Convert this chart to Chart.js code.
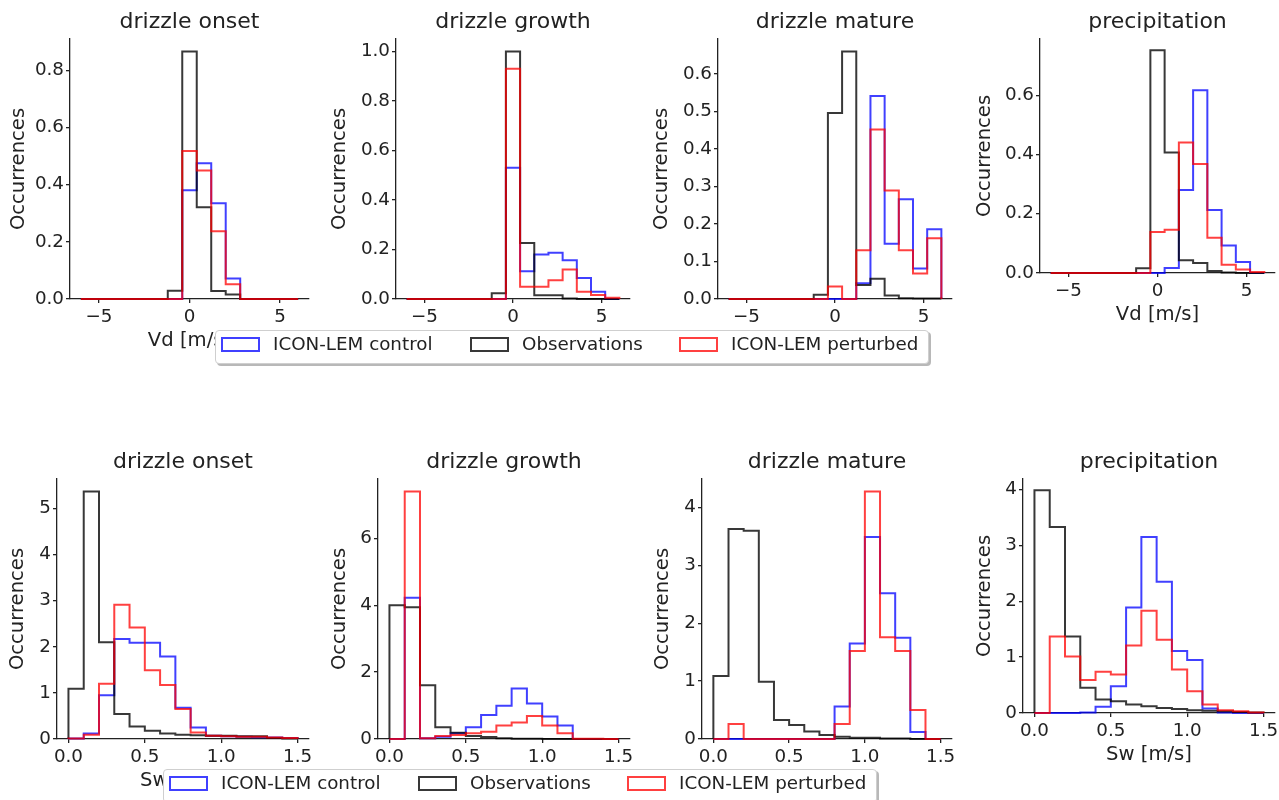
<!DOCTYPE html>
<html lang="en">
<head>
  <meta charset="utf-8" />
  <title>Vd / Sw distributions per cloud stage</title>

  <!-- Chart.js (CDN) -->
  <script src="https://cdn.jsdelivr.net/npm/chart.js@4.4.1/dist/chart.umd.min.js"></script>

  <style>
    body { margin: 0; background: #fff; }
    #page {
      position: relative; width: 1279px; height: 800px; overflow: hidden;
      font-family: 'DejaVu Sans', sans-serif; color: #222;
    }
    #page canvas { position: absolute; }
    .legend {
      position: absolute; box-sizing: border-box; width: 714px; height: 34px;
      background: #fff; border: 1px solid #cfcfcf; border-radius: 4px;
      box-shadow: 2px 2px 0 rgba(0, 0, 0, 0.28);
    }
    .legend .patch { position: absolute; width: 35px; height: 11px; border: 2px solid; }
    .legend .label { position: absolute; font-size: 18.3px; line-height: 22px; white-space: nowrap; }
  </style>
</head>
<body>

<div id="page"></div>

<script>
// ---- bins and ticks ----
const VD_EDGES = [-6, -5.2, -4.4, -3.6, -2.8, -2.0, -1.2, -0.4, 0.4, 1.2, 2.0, 2.8, 3.6, 4.4, 5.2, 6.0];
const SW_EDGES = [0, 0.1, 0.2, 0.3, 0.4, 0.5, 0.6, 0.7, 0.8, 0.9, 1.0, 1.1, 1.2, 1.3, 1.4, 1.5];
const VD_TICKS = [-5, 0, 5];
const SW_TICKS = [0, 0.5, 1.0, 1.5];

const STAGES = ['drizzle onset', 'drizzle growth', 'drizzle mature', 'precipitation'];
const SERIES_LABELS = ['ICON-LEM control', 'Observations', 'ICON-LEM perturbed'];
const SERIES_COLORS = ['rgba(0, 0, 255, 0.75)', 'rgba(0, 0, 0, 0.78)', 'rgba(255, 0, 0, 0.75)'];

// ---- Vd (mean Doppler velocity) histograms, one value per bin ----
const vdOnsetControl   = [0, 0, 0, 0, 0, 0, 0, 0.38, 0.475, 0.335, 0.072, 0, 0, 0, 0];
const vdOnsetObs       = [0, 0, 0, 0, 0, 0, 0.029, 0.866, 0.321, 0.028, 0.016, 0, 0, 0, 0];
const vdOnsetPerturbed = [0, 0, 0, 0, 0, 0, 0, 0.518, 0.449, 0.237, 0.052, 0, 0, 0, 0];

const vdGrowthControl   = [0, 0, 0, 0, 0, 0, 0, 0.53, 0.112, 0.18, 0.187, 0.156, 0.085, 0.029, 0];
const vdGrowthObs       = [0, 0, 0, 0, 0, 0, 0.023, 1.0, 0.226, 0.015, 0.015, 0.002, 0, 0, 0];
const vdGrowthPerturbed = [0, 0, 0, 0, 0, 0, 0, 0.93, 0.049, 0.049, 0.076, 0.119, 0.029, 0.016, 0.005];

const vdMatureControl   = [0, 0, 0, 0, 0, 0, 0, 0, 0, 0.042, 0.541, 0.147, 0.266, 0.081, 0.186];
const vdMatureObs       = [0, 0, 0, 0, 0, 0, 0.011, 0.496, 0.66, 0.037, 0.054, 0.009, 0.002, 0.001, 0.001];
const vdMaturePerturbed = [0, 0, 0, 0, 0, 0, 0, 0.033, 0, 0.13, 0.452, 0.289, 0.13, 0.068, 0.162];

const vdPrecipControl   = [0, 0, 0, 0, 0, 0, 0, 0, 0.017, 0.28, 0.617, 0.213, 0.093, 0.037, 0];
const vdPrecipObs       = [0, 0, 0, 0, 0, 0, 0.016, 0.752, 0.407, 0.043, 0.034, 0.007, 0.002, 0, 0];
const vdPrecipPerturbed = [0, 0, 0, 0, 0, 0, 0, 0.138, 0.146, 0.44, 0.368, 0.119, 0.028, 0.012, 0.003];

// ---- Sw (spectral width) histograms ----
const swOnsetControl   = [0.01, 0.12, 0.95, 2.17, 2.09, 2.09, 1.79, 0.68, 0.25, 0.07, 0.06, 0.05, 0.04, 0.03, 0.02];
const swOnsetObs       = [1.09, 5.37, 2.10, 0.54, 0.27, 0.18, 0.12, 0.09, 0.08, 0.07, 0.07, 0.06, 0.06, 0.02, 0.01];
const swOnsetPerturbed = [0.01, 0.09, 1.2, 2.91, 2.42, 1.49, 1.17, 0.65, 0.14, 0.07, 0.06, 0.05, 0.05, 0.03, 0.02];

const swGrowthControl   = [0, 4.22, 0.02, 0.07, 0.17, 0.35, 0.72, 0.99, 1.51, 1.06, 0.67, 0.4, 0, 0, 0];
const swGrowthObs       = [4.0, 3.94, 1.61, 0.35, 0.19, 0.09, 0.06, 0.02, 0.01, 0.01, 0, 0, 0, 0, 0];
const swGrowthPerturbed = [0, 7.4, 0.02, 0.09, 0.12, 0.17, 0.22, 0.4, 0.49, 0.69, 0.4, 0.17, 0.01, 0.01, 0];

const swMatureControl   = [0, 0, 0, 0, 0, 0, 0, 0, 0.56, 1.65, 3.49, 2.52, 1.75, 0.12, 0];
const swMatureObs       = [1.09, 3.63, 3.6, 0.99, 0.33, 0.24, 0.13, 0.07, 0.04, 0.02, 0.02, 0.01, 0.01, 0, 0];
const swMaturePerturbed = [0, 0.26, 0, 0, 0, 0, 0, 0, 0.26, 1.52, 4.28, 1.76, 1.52, 0.5, 0];

const swPrecipControl   = [0, 0, 0, 0.01, 0.11, 0.48, 1.89, 3.15, 2.35, 1.11, 0.95, 0.08, 0.01, 0, 0];
const swPrecipObs       = [3.99, 3.33, 1.37, 0.45, 0.24, 0.21, 0.15, 0.12, 0.09, 0.07, 0.05, 0.04, 0.03, 0.02, 0.01];
const swPrecipPerturbed = [0, 1.37, 1.01, 0.59, 0.74, 0.69, 1.21, 1.83, 1.31, 0.78, 0.39, 0.15, 0.05, 0.03, 0.01];

// ---- y tick labels per panel ----
const vdOnsetYTicks  = [0, 0.2, 0.4, 0.6, 0.8];
const vdGrowthYTicks = [0, 0.2, 0.4, 0.6, 0.8, 1.0];
const vdMatureYTicks = [0, 0.1, 0.2, 0.3, 0.4, 0.5, 0.6];
const vdPrecipYTicks = [0, 0.2, 0.4, 0.6];
const swOnsetYTicks  = [0, 1, 2, 3, 4, 5];
const swGrowthYTicks = [0, 2, 4, 6];
const swMatureYTicks = [0, 1, 2, 3, 4];
const swPrecipYTicks = [0, 1, 2, 3, 4];

// ---- layout ----
const INK = '#222';
const TICK_FONT = 18.3;
const LABEL_FONT = 19.6;
const TITLE_FONT = 22;
const TITLE_H = TITLE_FONT * 1.2 + 3.6;  // title block above each plot
const XAXIS_H = 54;                      // ticks + axis label below each plot
const RIGHT_PAD = 4;

const vdAxis = { edges: VD_EDGES, xTicks: VD_TICKS, xMin: -6.6, xMax: 6.6, xLabel: 'Vd [m/s]' };
const swAxis = { edges: SW_EDGES, xTicks: SW_TICKS, xMin: -0.075, xMax: 1.575, xLabel: 'Sw [m/s]' };

// plot rectangles (l, r, t, b) and the x centre of the "Occurrences" label
const panels = [
  { ...vdAxis, title: STAGES[0], yTicks: vdOnsetYTicks,  yDigits: 1, series: [vdOnsetControl, vdOnsetObs, vdOnsetPerturbed],    l: 70,   r: 309,  t: 39,  b: 299, labelX: 19 },
  { ...vdAxis, title: STAGES[1], yTicks: vdGrowthYTicks, yDigits: 1, series: [vdGrowthControl, vdGrowthObs, vdGrowthPerturbed], l: 396,  r: 630,  t: 39,  b: 299, labelX: 340 },
  { ...vdAxis, title: STAGES[2], yTicks: vdMatureYTicks, yDigits: 1, series: [vdMatureControl, vdMatureObs, vdMaturePerturbed], l: 718,  r: 952,  t: 39,  b: 299, labelX: 662 },
  { ...vdAxis, title: STAGES[3], yTicks: vdPrecipYTicks, yDigits: 1, series: [vdPrecipControl, vdPrecipObs, vdPrecipPerturbed], l: 1040, r: 1275, t: 39,  b: 273, labelX: 985 },
  { ...swAxis, title: STAGES[0], yTicks: swOnsetYTicks,  yDigits: 0, series: [swOnsetControl, swOnsetObs, swOnsetPerturbed],    l: 57,   r: 309,  t: 479, b: 739, labelX: 18 },
  { ...swAxis, title: STAGES[1], yTicks: swGrowthYTicks, yDigits: 0, series: [swGrowthControl, swGrowthObs, swGrowthPerturbed], l: 378,  r: 630,  t: 479, b: 739, labelX: 340 },
  { ...swAxis, title: STAGES[2], yTicks: swMatureYTicks, yDigits: 0, series: [swMatureControl, swMatureObs, swMaturePerturbed], l: 702,  r: 952,  t: 479, b: 739, labelX: 663 },
  { ...swAxis, title: STAGES[3], yTicks: swPrecipYTicks, yDigits: 0, series: [swPrecipControl, swPrecipObs, swPrecipPerturbed], l: 1023, r: 1275, t: 479, b: 713, labelX: 985 }
];

Chart.defaults.font.family = "'DejaVu Sans', sans-serif";
Chart.defaults.color = INK;

/**
 * stepPoints
 * Turns bin edges + bin heights into the outline of a step histogram:
 * up from 0 at the first edge, across every bin, back down at the last edge.
 */
function stepPoints(edges, heights) {
  const pts = [{ x: edges[0], y: 0 }];
  heights.forEach((h, i) => pts.push({ x: edges[i], y: h }));
  pts.push({ x: edges[edges.length - 1], y: 0 });
  return pts;
}

function vdTickLabel(v) {
  return v < 0 ? '\u2212' + Math.abs(v) : String(v);
}

function drawPanel(p) {
  const left = Math.round(p.labelX - LABEL_FONT * 0.6);
  const top = Math.round(p.t - TITLE_H);
  const yAxisW = p.l - left;
  const width = yAxisW + (p.r - p.l) + RIGHT_PAD;
  const height = Math.round(TITLE_H + (p.b - p.t) + XAXIS_H);

  const canvas = document.createElement('canvas');
  canvas.width = width;
  canvas.height = height;
  canvas.style.left = left + 'px';
  canvas.style.top = top + 'px';
  document.getElementById('page').appendChild(canvas);

  // matplotlib-like autoscale: 5% headroom over the tallest bin
  const yMax = Math.max(...p.series.flat()) * 1.05;

  const axisLine = { display: true, color: INK, width: 1.3 };
  const tickMarks = { display: true, drawOnChartArea: false, drawTicks: true, tickLength: 4, color: INK, lineWidth: 1.3 };

  new Chart(canvas, {
    type: 'line',
    data: {
      datasets: p.series.map((vals, k) => ({
        label: SERIES_LABELS[k],
        data: stepPoints(p.edges, vals),
        borderColor: SERIES_COLORS[k],
        borderWidth: 2,
        stepped: true,
        pointRadius: 0,
        fill: false,
        clip: false,
        order: 3 - k   // perturbed on top, control underneath
      }))
    },
    options: {
      responsive: false,
      animation: false,
      events: [],
      layout: { padding: { left: 0, top: 0, bottom: 0, right: RIGHT_PAD } },
      plugins: {
        legend: { display: false },
        tooltip: { enabled: false },
        title: {
          display: true,
          text: p.title,
          fullSize: false,
          color: INK,
          font: { size: TITLE_FONT, weight: 'normal', lineHeight: 1.2 },
          padding: { top: 0, bottom: 3.6 }
        }
      },
      scales: {
        x: {
          type: 'linear',
          min: p.xMin,
          max: p.xMax,
          afterBuildTicks: s => { s.ticks = p.xTicks.map(v => ({ value: v })); },
          afterFit: s => { s.height = XAXIS_H; s.paddingLeft = 0; s.paddingRight = 0; },
          ticks: {
            autoSkip: false, maxRotation: 0, padding: 3, color: INK,
            font: { size: TICK_FONT },
            callback: v => p.edges === VD_EDGES ? vdTickLabel(v) : v.toFixed(1)
          },
          grid: tickMarks,
          border: axisLine,
          title: { display: true, text: p.xLabel, color: INK, font: { size: LABEL_FONT }, padding: 0 }
        },
        y: {
          min: 0,
          max: yMax,
          afterBuildTicks: s => { s.ticks = p.yTicks.map(v => ({ value: v })); },
          afterFit: s => { s.width = yAxisW; s.paddingTop = 0; s.paddingBottom = 0; },
          ticks: {
            autoSkip: false, padding: 2, color: INK,
            font: { size: TICK_FONT },
            callback: v => v.toFixed(p.yDigits)
          },
          grid: tickMarks,
          border: axisLine,
          title: { display: true, text: 'Occurrences', color: INK, font: { size: LABEL_FONT }, padding: 0 }
        }
      }
    }
  });
}

/**
 * makeLegend
 * Shared legend strip (drawn over the x labels, like the original layout).
 */
function makeLegend(left, top) {
  const box = document.createElement('div');
  box.className = 'legend';
  box.style.left = left + 'px';
  box.style.top = top + 'px';
  const patchX = [5, 254, 463];
  SERIES_LABELS.forEach((name, k) => {
    const patch = document.createElement('div');
    patch.className = 'patch';
    patch.style.left = patchX[k] + 'px';
    patch.style.top = '6px';
    patch.style.borderColor = SERIES_COLORS[k];
    box.appendChild(patch);

    const label = document.createElement('div');
    label.className = 'label';
    label.style.left = (patchX[k] + 52) + 'px';
    label.style.top = '2px';
    label.textContent = name;
    box.appendChild(label);
  });
  document.getElementById('page').appendChild(box);
}

panels.forEach(drawPanel);
makeLegend(215, 330);
makeLegend(163, 769);
</script>

</body>
</html>
